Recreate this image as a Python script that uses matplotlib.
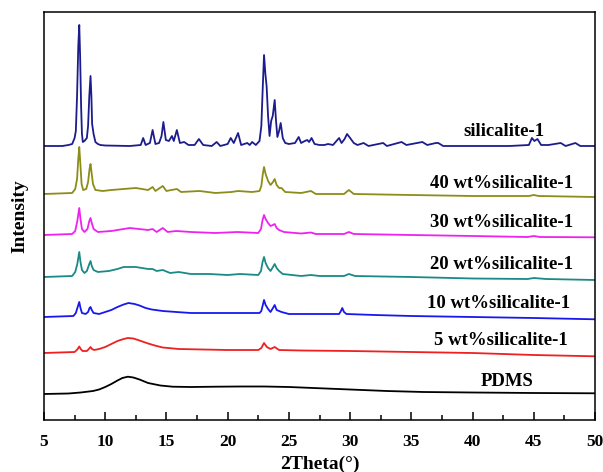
import matplotlib
matplotlib.use("Agg")
import matplotlib.pyplot as plt
from matplotlib.ticker import MultipleLocator

# XRD patterns: (2theta, intensity above each trace's own baseline), arbitrary units
sil_2t = [5.0, 6.5, 7.0, 7.3, 7.5, 7.6, 7.7, 7.8, 7.88, 7.95, 8.03, 8.1, 8.17, 8.3, 8.5, 8.6,
          8.7, 8.8, 8.87, 8.93, 9.05, 9.2, 9.4, 9.6,
          10.0, 12.0, 12.9, 13.1, 13.3, 13.65, 13.87, 14.1, 14.4, 14.6, 14.75, 14.95, 15.2, 15.45,
          15.6, 15.85, 16.1, 16.45, 16.8, 17.3, 17.65, 18.0, 18.7, 19.1, 19.4, 20.0, 20.25, 20.5,
          20.85, 21.1, 21.6, 21.8, 22.0, 22.3, 22.6, 22.75, 22.87, 22.97, 23.08, 23.18, 23.3,
          23.42, 23.55, 23.68, 23.84, 23.95, 24.06, 24.2, 24.33, 24.5, 24.7, 25.0, 25.5, 25.8,
          26.0, 26.3, 26.5, 26.65, 26.85, 27.1, 27.5, 27.9, 28.2, 28.6, 29.1, 29.3, 29.55, 29.75,
          30.0, 30.3, 30.6, 31.1, 31.5, 32.7, 33.0, 34.2, 34.6, 35.9, 36.3, 37.0, 37.2, 37.6,
          40.0, 43.0, 44.6, 44.85, 45.05, 45.3, 45.6, 46.2, 47.2, 47.6, 48.4, 48.8, 50.0]
sil_int = [0, 0, 1, 2, 8, 15, 50, 100, 121, 90, 40, 12, 4, 5, 8, 20,
           50, 70, 50, 22, 12, 4, 2, 1,
           0.5, 0, 1, 8, 1, 3, 16, 2, 3, 10, 24, 6, 5, 10,
           5, 16, 3, 4, 1, 1, 7, 1, 0, 4, 0, 2, 8, 3,
           13, 1, 3, 1, 4, 1, 5, 20, 60, 91, 72, 60, 30,
           10, 25, 30, 46, 25, 9, 15, 23, 8, 3, 2, 3, 9,
           3, 5, 6, 4, 8, 2, 1, 1, 2, 1, 8, 3, 7, 12,
           8, 3, 1, 3, 0, 3, 0, 4, 1, 4, 1, 3, 3, 0,
           0, 0, 1, 8, 5, 7, 1, 1, 3, 0, 3, 0, 0]

w40_2t = [5.0, 7.3, 7.55, 7.7, 7.8, 7.88, 7.97, 8.07, 8.2, 8.45, 8.6, 8.72, 8.8, 8.9, 9.0, 9.2,
          9.8, 10.5, 11.5, 12.5, 13.5, 13.87, 14.1, 14.7, 15.0, 15.4, 15.85, 16.2, 17.7, 19.0,
          20.3, 20.85, 22.0, 22.6, 22.75, 22.87, 22.97, 23.1, 23.3, 23.5, 23.7, 23.84, 24.0,
          24.2, 24.4, 24.7, 26.0, 26.8, 27.2, 29.5, 29.9, 30.3, 35.0, 40.0, 44.6, 45.0, 45.4, 50.0]
w40_int = [0, 1, 5, 15, 35, 47, 30, 10, 4, 5, 12, 25, 30, 20, 10, 4,
           3, 4, 5, 6, 4, 7, 3, 8, 3, 4, 5, 2, 3, 1,
           2, 3, 2, 3, 8, 20, 27, 20, 13, 9, 12, 15, 9,
           6, 6, 2, 1, 3, 0, 0, 4, 0, -1, -2, -2, -1, -2, -3]

w30_2t = [5.0, 7.3, 7.55, 7.72, 7.88, 7.98, 8.1, 8.3, 8.55, 8.7, 8.8, 8.9, 9.05, 9.4, 10.5,
          12.0, 13.5, 13.87, 14.2, 14.7, 15.1, 15.8, 17.0, 19.0, 20.8, 22.5, 22.72, 22.85, 22.97,
          23.1, 23.3, 23.5, 23.7, 23.84, 24.0, 24.2, 24.6, 26.0, 26.8, 27.2, 29.5, 29.9, 30.3,
          35.0, 40.0, 44.5, 45.0, 45.5, 50.0]
w30_int = [0, 1, 4, 14, 27, 16, 6, 3, 6, 14, 17, 12, 6, 3, 4,
           7, 5, 6, 3, 7, 3, 4, 3, 2, 3, 2, 6, 15, 20,
           16, 12, 9, 10, 11, 7, 5, 3, 1.5, 2.5, 1, 1, 3, 1,
           0, -1, -2, -1, -2, -2.3]

w20_2t = [5.0, 7.3, 7.55, 7.72, 7.88, 7.98, 8.1, 8.3, 8.5, 8.7, 8.8, 8.9, 9.05, 9.4, 10.3,
          11.0, 11.5, 12.5, 13.5, 13.87, 14.2, 14.7, 15.3, 16.0, 17.0, 18.5, 20.0, 21.0, 22.5,
          22.72, 22.85, 22.97, 23.1, 23.3, 23.5, 23.7, 23.84, 24.0, 24.2, 24.5, 26.0, 26.8, 27.5,
          29.5, 29.9, 30.4, 35.0, 40.0, 44.5, 45.0, 46.0, 50.0]
w20_int = [0, 1, 5, 13, 25, 15, 7, 4, 6, 13, 16, 11, 7, 5, 6,
           8, 10, 10, 8, 8, 6, 7, 4, 5, 3, 3, 2, 3, 2,
           6, 15, 20, 14, 9, 6, 10, 13, 9, 6, 3, 1, 2, 1,
           1, 3, 1, 0, -1.5, -2, -1, -2, -3]

w10_2t = [5.0, 7.4, 7.6, 7.75, 7.88, 7.98, 8.1, 8.4, 8.6, 8.72, 8.8, 8.9, 9.05, 9.5, 10.0,
          10.5, 11.0, 11.5, 11.9, 12.4, 12.8, 13.3, 13.8, 14.7, 15.8, 17.0, 19.0, 21.0, 22.6,
          22.75, 22.87, 22.97, 23.1, 23.3, 23.5, 23.7, 23.84, 24.0, 24.4, 25.0, 26.8, 29.1, 29.25,
          29.36, 29.5, 29.7, 32.0, 35.0, 40.0, 45.0, 50.0]
w10_int = [0, 1, 4, 10, 15, 9, 4, 3, 5, 9, 10, 7, 4, 3, 5,
           7, 10, 12.5, 14, 13, 11.5, 9, 7.5, 6, 5, 4, 4, 4, 4,
           6, 12, 17, 12, 8, 5, 9, 12, 7, 5, 3, 3, 3, 6,
           9, 5, 3, 2, 1, 0, -1, -2.3]

w5_2t = [5.0, 7.5, 7.72, 7.88, 8.0, 8.15, 8.5, 8.7, 8.8, 8.92, 9.1, 9.5, 10.0, 10.5, 11.0,
         11.5, 11.85, 12.3, 12.8, 13.5, 14.2, 14.7, 16.0, 18.0, 20.0, 22.5, 22.75, 22.97, 23.2,
         23.5, 23.84, 24.2, 26.0, 30.0, 35.0, 40.0, 45.0, 50.0]
w5_int = [0, 1, 3.5, 6.5, 4, 2, 2, 4.5, 6, 4, 3, 4, 6, 9, 12,
          14, 15, 14.5, 12.5, 9.5, 7, 5.5, 4, 3.5, 3, 3, 5, 10, 6,
          4, 6, 3, 2.5, 2, 1, 0, -2, -3.3]

pdms_2t = [5.0, 7.0, 8.0, 9.0, 9.5, 10.0, 10.5, 11.0, 11.4, 11.85, 12.3, 12.8, 13.5, 14.5,
           15.5, 17.0, 19.0, 21.0, 23.0, 25.0, 27.0, 30.0, 33.0, 36.0, 40.0, 45.0, 50.0]
pdms_int = [0, 0.5, 1.5, 3, 4.5, 7, 10, 13.5, 16, 17.3, 16.5, 14.5, 11, 8.5,
            7.3, 7, 7.3, 7.5, 7.5, 7, 6, 4.5, 3, 2, 1.5, 1, 0.7]

names = ["silicalite-1", "40 wt%silicalite-1", "30 wt%silicalite-1",
         "20 wt%silicalite-1", "10 wt%silicalite-1", "5 wt%silicalite-1", "PDMS"]
xs = [sil_2t, w40_2t, w30_2t, w20_2t, w10_2t, w5_2t, pdms_2t]
ys = [sil_int, w40_int, w30_int, w20_int, w10_int, w5_int, pdms_int]

# stacking offsets and label placement
offsets = [274, 226, 185, 143, 103, 67, 26]
label_x = [45.9, 48.2, 48.2, 48.2, 48.0, 47.8, 45.0]
label_y = [284, 232, 193, 151, 112, 75, 34]
colors = ["#1c1c8c", "#8c8c18", "#ee22ee", "#1a8a86", "#1818ee", "#ee2020", "#000000"]

plt.rcParams["font.family"] = ["Liberation Serif", "DejaVu Serif"]
plt.rcParams["font.weight"] = "bold"

fig = plt.figure(figsize=(6.03, 4.72), dpi=100)
ax = fig.add_axes([44 / 603, 52 / 472, 551 / 603, 408 / 472])

for x, y, off, c in zip(xs, ys, offsets, colors):
    ax.plot(x, [v + off for v in y], color=c, lw=1.3)

for name, lx, ly in zip(names, label_x, label_y):
    ax.text(lx, ly, name, ha="right", va="baseline", fontsize=13.5, fontweight="bold")

ax.set_xlim(5, 50)
ax.set_ylim(0, 408)
ax.xaxis.set_major_locator(MultipleLocator(5))
ax.xaxis.set_minor_locator(MultipleLocator(2.5))
ax.tick_params(axis="x", which="major", direction="in", length=5.5, width=1.1,
               labelsize=12.5, pad=10)
ax.tick_params(axis="x", which="minor", direction="in", length=3.3, width=1.1)
ax.set_yticks([])
for s in ax.spines.values():
    s.set_linewidth(1.1)

ax.set_xlabel("2Theta(°)", fontsize=14, fontweight="bold", labelpad=4)
ax.set_ylabel("Intensity", fontsize=14, fontweight="bold", labelpad=11)

fig.savefig("out.png", dpi=100)
